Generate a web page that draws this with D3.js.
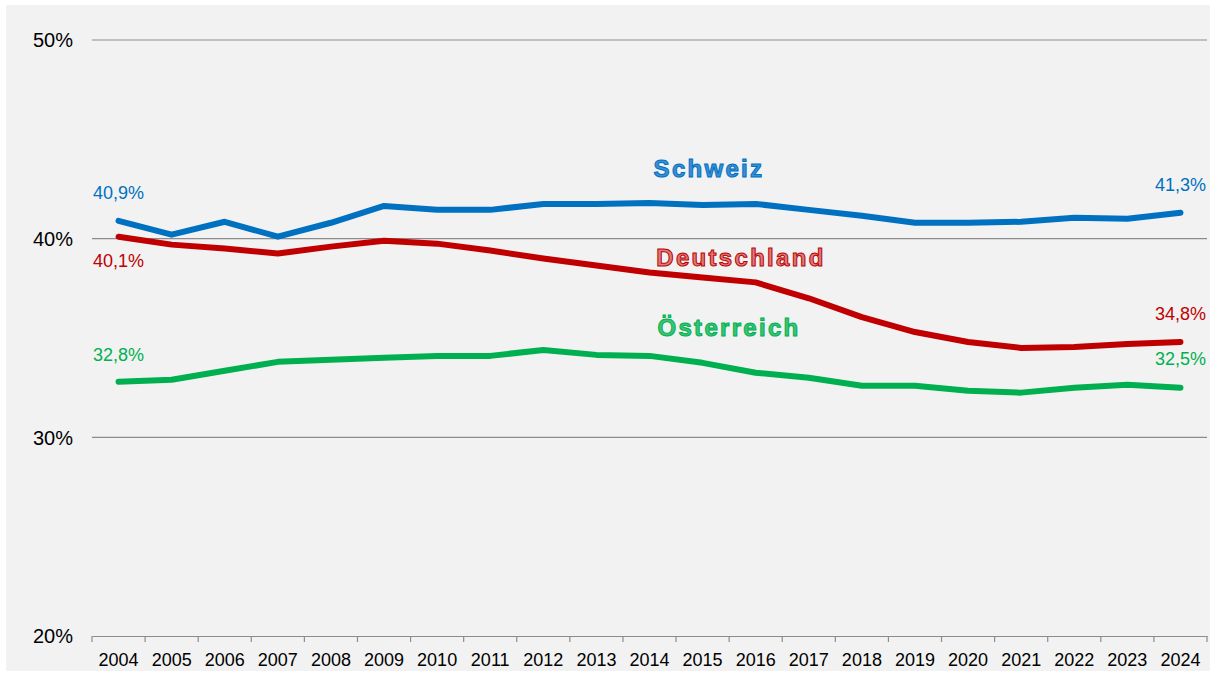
<!DOCTYPE html>
<html lang="de">
<head>
<meta charset="utf-8">
<script src="https://cdn.jsdelivr.net/npm/d3@7"></script>
<style>
  body { margin: 0; background: #fff; }
  svg { display: block; font-family: "Liberation Sans", Arial, sans-serif; }
</style>
</head>
<body>
<svg id="chart" width="1210" height="674"></svg>
<script>
// data
var years = ["2004","2005","2006","2007","2008","2009","2010","2011","2012","2013","2014",
  "2015","2016","2017","2018","2019","2020","2021","2022","2023","2024"];
var schweiz = [40.9,40.2,40.85,40.1,40.8,41.65,41.45,41.45,41.75,41.75,41.8,
  41.7,41.75,41.45,41.15,40.8,40.8,40.85,41.05,41.0,41.3];
var deutschland = [40.1,39.7,39.5,39.25,39.6,39.9,39.75,39.4,39.0,38.65,38.3,
  38.05,37.8,37.0,36.05,35.3,34.8,34.5,34.55,34.7,34.8];
var oesterreich = [32.8,32.9,33.35,33.8,33.9,34.0,34.1,34.1,34.4,34.15,34.1,
  33.75,33.25,33.0,32.6,32.6,32.35,32.25,32.5,32.65,32.5];
var yTicks = [20,30,40,50];

var series = [
  {name: "Schweiz", values: schweiz, color: "#0070c0", fill: "#3a8fd6",
   lx: 709, ly: 177, firstDy: -22, lastDy: -22},
  {name: "Deutschland", values: deutschland, color: "#c00000", fill: "#d77b7b",
   lx: 741, ly: 266, firstDy: 30, lastDy: -22},
  {name: "Österreich", values: oesterreich, color: "#00b050", fill: "#3cc477",
   lx: 729, ly: 336, firstDy: -21, lastDy: -23}
];

var fmt = function(v) { return v.toFixed(1).replace(".", ",") + "%"; };

var svg = d3.select("#chart");

// background panel
svg.append("rect").attr("x", 6).attr("y", 5).attr("width", 1204).attr("height", 666)
  .attr("fill", "#f2f2f2");

var x = d3.scaleBand().domain(years).range([92, 1207]);
var y = d3.scaleLinear().domain([20, 50]).range([636, 40]);

// gridlines
svg.append("g").selectAll("line")
  .data(yTicks.slice(1))
  .enter().append("line")
  .attr("x1", 92).attr("x2", 1207)
  .attr("y1", d => y(d)).attr("y2", d => y(d))
  .attr("stroke", "#8c8c8c").attr("stroke-width", 1.2);

// y labels
svg.append("g").selectAll("text")
  .data(yTicks)
  .enter().append("text")
  .attr("x", 73).attr("y", d => y(d))
  .attr("dy", "0.36em")
  .attr("text-anchor", "end")
  .attr("font-size", 20).attr("fill", "#000")
  .text(d => d + "%");

// x axis
var xAxis = svg.append("g").attr("transform", "translate(0," + y(20) + ")")
  .call(d3.axisBottom(x).tickSize(0).tickPadding(17));
xAxis.select(".domain").attr("stroke", "#8c8c8c").attr("stroke-width", 1.2);
xAxis.selectAll("text").attr("font-size", 18).attr("fill", "#000")
  .attr("font-family", "\"Liberation Sans\", Arial, sans-serif");

// ticks between categories
var bounds = years.map(d => x(d)).concat([x.range()[1]]);
xAxis.selectAll(".sep").data(bounds).enter().append("line")
  .attr("class", "sep")
  .attr("x1", d => d).attr("x2", d => d)
  .attr("y1", 0).attr("y2", 6)
  .attr("stroke", "#8c8c8c").attr("stroke-width", 1.2);

var cx = d => x(d) + x.bandwidth() / 2;

var line = d3.line()
  .x((d, i) => cx(years[i]))
  .y(d => y(d));

series.forEach(function(s) {
  svg.append("path")
    .datum(s.values)
    .attr("d", line)
    .attr("fill", "none")
    .attr("stroke", s.color)
    .attr("stroke-width", 6)
    .attr("stroke-linejoin", "round")
    .attr("stroke-linecap", "round");

  var n = s.values.length - 1;
  // first / last labels
  svg.append("text")
    .attr("x", cx(years[0])).attr("y", y(s.values[0]) + s.firstDy)
    .attr("text-anchor", "middle").attr("font-size", 18).attr("fill", s.color)
    .text(fmt(s.values[0]));
  svg.append("text")
    .attr("x", cx(years[n])).attr("y", y(s.values[n]) + s.lastDy)
    .attr("text-anchor", "middle").attr("font-size", 18).attr("fill", s.color)
    .text(fmt(s.values[n]));

  // series name with outline look
  svg.append("text")
    .attr("x", s.lx).attr("y", s.ly)
    .attr("text-anchor", "middle")
    .attr("font-size", 24).attr("font-weight", "bold")
    .attr("letter-spacing", 2.3)
    .attr("fill", s.fill)
    .attr("stroke", s.color).attr("stroke-width", 1)
    .text(s.name);
});
</script>
</body>
</html>
